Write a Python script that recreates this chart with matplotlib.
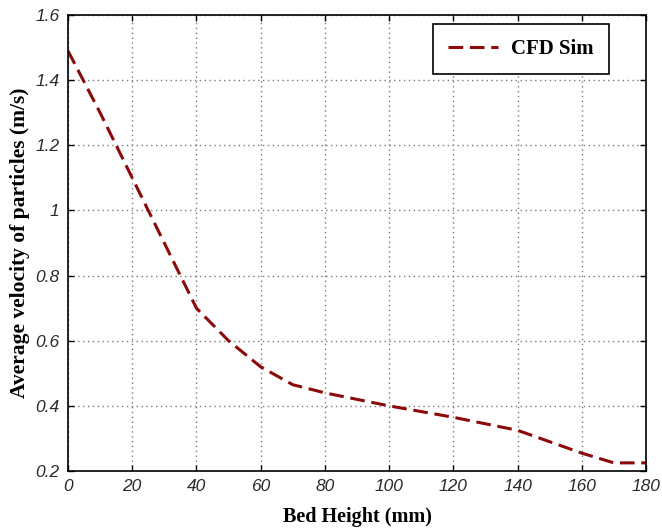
import matplotlib
matplotlib.use("Agg")
import matplotlib.pyplot as plt

# bed height (mm) vs average particle velocity (m/s)
bed_height = [0, 10, 20, 30, 40, 50, 60, 70, 80, 100, 120, 140, 160, 170, 180]
velocity = [1.49, 1.30, 1.10, 0.90, 0.70, 0.60, 0.52, 0.465, 0.44, 0.40, 0.365, 0.325, 0.255, 0.225, 0.225]
xticks = [0, 20, 40, 60, 80, 100, 120, 140, 160, 180]
yticks = [0.2, 0.4, 0.6, 0.8, 1.0, 1.2, 1.4, 1.6]
ytick_labels = ["0.2", "0.4", "0.6", "0.8", "1", "1.2", "1.4", "1.6"]

SERIF = "Liberation Serif"
SANS = "Liberation Sans"

fig = plt.figure(figsize=(6.62, 5.29), dpi=100)
ax = fig.add_axes([0.1027, 0.1096, 0.8731, 0.862])

ax.plot(bed_height, velocity, ls=(0, (4.8, 2.2)), color="#8b0a0a", lw=2.2, label="CFD Sim")

ax.set_xlim(0, 180)
ax.set_ylim(0.2, 1.6)
ax.set_xticks(xticks)
ax.set_yticks(yticks)
ax.set_yticklabels(ytick_labels)
for lab in ax.get_xticklabels() + ax.get_yticklabels():
    lab.set_fontfamily(SANS); lab.set_fontstyle("italic"); lab.set_fontsize(12.5); lab.set_color("#2a2a2a")
ax.tick_params(direction="in", top=True, right=True, length=4, width=1, pad=6)
ax.grid(True, ls=(0, (1, 2.5)), color="#7a7a7a", lw=1.0)
for s in ax.spines.values():
    s.set_linewidth(1.2)

ax.set_xlabel("Bed Height (mm)", fontfamily=SERIF, fontweight="bold", fontsize=14.5, labelpad=9)
ax.set_ylabel("Average velocity of particles (m/s)", fontfamily=SERIF, fontweight="bold", fontsize=15.5, labelpad=4)

leg = ax.legend(loc="upper right", bbox_to_anchor=(0.936, 0.980), borderaxespad=0,
                prop={"family": SERIF, "weight": "bold", "size": 15},
                fancybox=False, edgecolor="black", framealpha=1, handlelength=2.4,
                handletextpad=0.62, borderpad=0.72)
leg.get_frame().set_linewidth(1.2)

fig.savefig("out.png", dpi=100)
